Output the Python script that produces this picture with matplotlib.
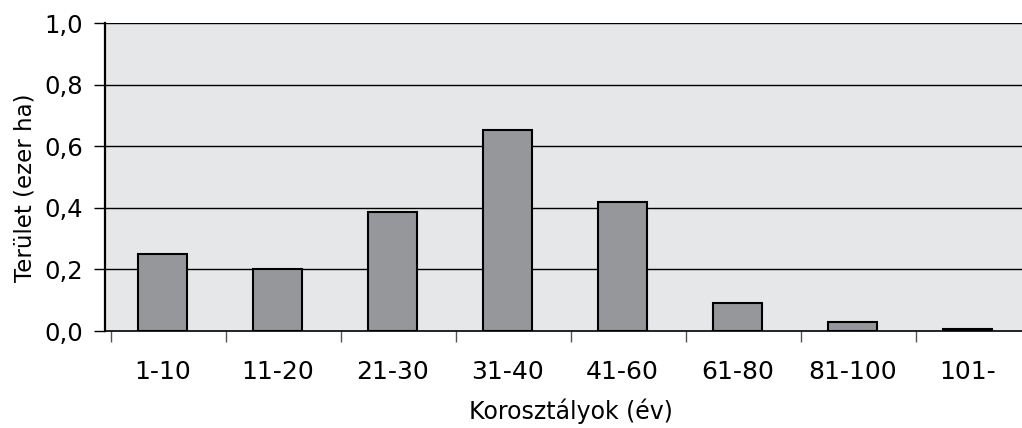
import matplotlib
matplotlib.use("Agg")
import matplotlib.pyplot as plt
import numpy as np

# adatok
categories = ["1-10", "11-20", "21-30", "31-40", "41-60", "61-80", "81-100", "101-"]
values = [0.25, 0.20, 0.386, 0.653, 0.419, 0.09, 0.028, 0.005]
yticks = [0.0, 0.2, 0.4, 0.6, 0.8, 1.0]
ytick_labels = ["0,0", "0,2", "0,4", "0,6", "0,8", "1,0"]

plt.rcParams['font.family'] = ['DejaVu Sans']

W, H = 1022, 428
fig = plt.figure(figsize=(W / 100, H / 100), dpi=100)
ax = fig.add_axes([105 / W, (H - 331) / H, (W - 105) / W, (331 - 23) / H])
ax.set_facecolor("#e6e7e9")

x = np.arange(len(categories))
ax.bar(x, values, width=0.42, color="#96979b", edgecolor="black", linewidth=1.5, zorder=3)

ax.set_xlim(-0.5, 7.474)
ax.set_ylim(0, 1.0)

# rácsvonalak
for yv in yticks[1:]:
    ax.axhline(yv, color="black", lw=1.0, zorder=1)

ax.set_yticks(yticks)
ax.set_yticklabels(ytick_labels, fontsize=17.5)
ax.tick_params(axis='y', length=8, width=1, pad=8, direction='out')

# kategóriák közötti osztások (kicsit jobbra tolva, mint az eredetin)
ax.set_xticks(np.arange(len(categories)) - 0.448, minor=True)
ax.set_xticks(x)
ax.set_xticklabels(categories, fontsize=18)
ax.tick_params(axis='x', which='major', length=0, pad=21)
ax.tick_params(axis='x', which='minor', length=8, width=1, color="#555555")

for s in ["top", "right"]:
    ax.spines[s].set_visible(False)
ax.spines["left"].set_linewidth(1.6)
ax.spines["bottom"].set_linewidth(1.2)

# tengelyfeliratok
fig.text(571 / W, (H - 419) / H, "Korosztályok (év)", fontsize=17,
         ha="center", va="baseline")
fig.text(25 / W, (H - 188) / H, "Terület (ezer ha)", fontsize=16.5,
         ha="center", va="center", rotation=90)

fig.savefig("out.png", dpi=100)
